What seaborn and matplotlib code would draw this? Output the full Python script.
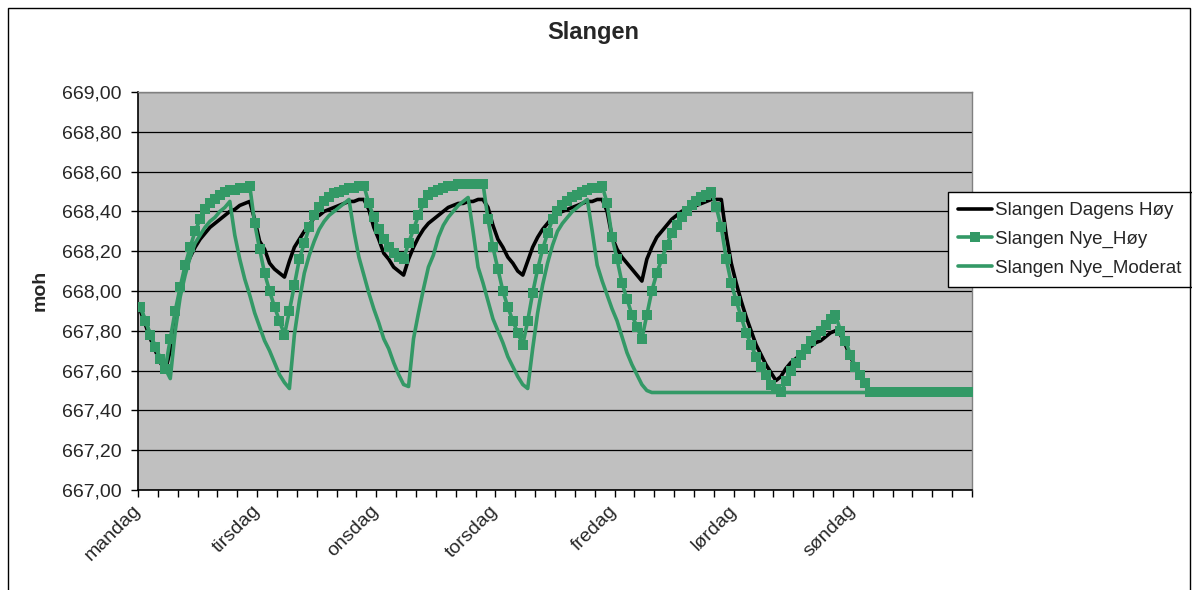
import numpy as np
import pandas as pd
import matplotlib
matplotlib.use("Agg")
import matplotlib.pyplot as plt
import seaborn as sns
from matplotlib.ticker import MultipleLocator, FuncFormatter, FixedLocator
from matplotlib.patches import Rectangle

title = "Slangen"
ylabel = "moh"
day_labels = ["mandag", "tirsdag", "onsdag", "torsdag", "fredag", "lørdag", "søndag"]
series_names = ["Slangen Dagens Høy", "Slangen Nye_Høy", "Slangen Nye_Moderat"]

dagens_hoy = [
    667.90, 667.83, 667.76, 667.70, 667.64, 667.60,
    667.70, 667.85, 668.00, 668.11, 668.17, 668.22,
    668.26, 668.29, 668.32, 668.34, 668.36, 668.38,
    668.40, 668.41, 668.43, 668.44, 668.45, 668.36,
    668.25, 668.21, 668.14, 668.11, 668.09, 668.07,
    668.15, 668.22, 668.26, 668.30, 668.33, 668.37,
    668.38, 668.40, 668.41, 668.42, 668.43, 668.44,
    668.45, 668.45, 668.46, 668.46, 668.41, 668.32,
    668.26, 668.19, 668.16, 668.12, 668.10, 668.08,
    668.16, 668.22, 668.27, 668.31, 668.34, 668.36,
    668.38, 668.40, 668.42, 668.43, 668.44, 668.44,
    668.45, 668.45, 668.46, 668.46, 668.42, 668.33,
    668.26, 668.22, 668.17, 668.14, 668.10, 668.08,
    668.15, 668.22, 668.27, 668.31, 668.34, 668.37,
    668.39, 668.40, 668.41, 668.42, 668.43, 668.44,
    668.45, 668.45, 668.46, 668.46, 668.40, 668.27,
    668.21, 668.17, 668.14, 668.11, 668.08, 668.05,
    668.16, 668.22, 668.27, 668.30, 668.33, 668.36,
    668.38, 668.40, 668.41, 668.42, 668.43, 668.44,
    668.45, 668.46, 668.46, 668.46, 668.28, 668.14,
    668.04, 667.95, 667.87, 667.80, 667.73, 667.68,
    667.63, 667.59, 667.55, 667.57, 667.61, 667.64,
    667.66, 667.68, 667.70, 667.72, 667.74, 667.75,
    667.77, 667.79, 667.80, 667.78, 667.73, 667.67,
    667.62, 667.57, 667.53, 667.49, 667.49, 667.49,
    667.49, 667.49, 667.49, 667.49, 667.49, 667.49,
    667.49, 667.49, 667.49, 667.49, 667.49, 667.49,
    667.49, 667.49, 667.49, 667.49, 667.49, 667.49,
]

nye_hoy = [
    667.92, 667.85, 667.78, 667.72, 667.66, 667.61,
    667.76, 667.90, 668.02, 668.13, 668.22, 668.30,
    668.36, 668.41, 668.44, 668.46, 668.48, 668.50,
    668.51, 668.51, 668.52, 668.52, 668.53, 668.34,
    668.21, 668.09, 668.00, 667.92, 667.85, 667.78,
    667.90, 668.03, 668.16, 668.24, 668.32, 668.38,
    668.42, 668.45, 668.47, 668.49, 668.50, 668.51,
    668.52, 668.52, 668.53, 668.53, 668.44, 668.37,
    668.31, 668.26, 668.22, 668.19, 668.17, 668.16,
    668.24, 668.31, 668.38, 668.44, 668.48, 668.50,
    668.51, 668.52, 668.53, 668.53, 668.54, 668.54,
    668.54, 668.54, 668.54, 668.54, 668.36, 668.22,
    668.11, 668.00, 667.92, 667.85, 667.79, 667.73,
    667.85, 667.99, 668.11, 668.21, 668.29, 668.36,
    668.40, 668.43, 668.45, 668.47, 668.48, 668.50,
    668.51, 668.52, 668.52, 668.53, 668.44, 668.27,
    668.16, 668.04, 667.96, 667.88, 667.82, 667.76,
    667.88, 668.00, 668.09, 668.16, 668.23, 668.29,
    668.33, 668.37, 668.40, 668.43, 668.45, 668.47,
    668.48, 668.50, 668.42, 668.32, 668.16, 668.04,
    667.95, 667.87, 667.79, 667.73, 667.67, 667.62,
    667.58, 667.53, 667.51, 667.49, 667.55, 667.60,
    667.64, 667.68, 667.71, 667.75, 667.78, 667.80,
    667.83, 667.86, 667.88, 667.80, 667.75, 667.68,
    667.62, 667.58, 667.54, 667.49, 667.49, 667.49,
    667.49, 667.49, 667.49, 667.49, 667.49, 667.49,
    667.49, 667.49, 667.49, 667.49, 667.49, 667.49,
    667.49, 667.49, 667.49, 667.49, 667.49, 667.49,
]

nye_moderat = [
    667.92, 667.85, 667.78, 667.72, 667.66, 667.61,
    667.56, 667.80, 667.97, 668.08, 668.17, 668.24,
    668.28, 668.32, 668.35, 668.37, 668.40, 668.42,
    668.45, 668.28, 668.16, 668.06, 667.98, 667.89,
    667.82, 667.75, 667.70, 667.64, 667.58, 667.54,
    667.51, 667.78, 667.95, 668.09, 668.18, 668.25,
    668.31, 668.35, 668.38, 668.40, 668.42, 668.44,
    668.46, 668.30, 668.17, 668.08, 667.99, 667.91,
    667.84, 667.76, 667.71, 667.64, 667.58, 667.53,
    667.52, 667.76, 667.89, 668.01, 668.12, 668.18,
    668.27, 668.33, 668.37, 668.40, 668.43, 668.45,
    668.47, 668.30, 668.12, 668.04, 667.95, 667.86,
    667.80, 667.74, 667.67, 667.62, 667.57, 667.53,
    667.51, 667.71, 667.89, 668.03, 668.14, 668.23,
    668.30, 668.34, 668.37, 668.40, 668.42, 668.44,
    668.46, 668.30, 668.13, 668.05, 667.98, 667.91,
    667.85, 667.77, 667.69, 667.63, 667.58, 667.53,
    667.50, 667.49, 667.49, 667.49, 667.49, 667.49,
    667.49, 667.49, 667.49, 667.49, 667.49, 667.49,
    667.49, 667.49, 667.49, 667.49, 667.49, 667.49,
    667.49, 667.49, 667.49, 667.49, 667.49, 667.49,
    667.49, 667.49, 667.49, 667.49, 667.49, 667.49,
    667.49, 667.49, 667.49, 667.49, 667.49, 667.49,
    667.49, 667.49, 667.49, 667.49, 667.49, 667.49,
    667.49, 667.49, 667.49, 667.49, 667.49, 667.49,
    667.49, 667.49, 667.49, 667.49, 667.49, 667.49,
    667.49, 667.49, 667.49, 667.49, 667.49, 667.49,
    667.49, 667.49, 667.49, 667.49, 667.49, 667.49,
]

n = len(dagens_hoy)
df = pd.DataFrame({
    "hour": np.arange(n),
    series_names[0]: dagens_hoy,
    series_names[1]: nye_hoy,
    series_names[2]: nye_moderat,
})

sns.set_style("white")
plt.rcParams["font.family"] = ["Liberation Sans", "DejaVu Sans"]

W, H = 1192, 590
fig = plt.figure(figsize=(W / 100, H / 100), dpi=100)
ax = fig.add_axes([138 / W, 1 - 490 / H, 834 / W, 398 / H])
ax.set_facecolor("#C0C0C0")

green = "#339966"
sns.lineplot(data=df, x="hour", y=series_names[0], ax=ax, color="black",
             linewidth=2.6, label=series_names[0], zorder=3)
sns.lineplot(data=df, x="hour", y=series_names[1], ax=ax, color=green,
             linewidth=2.6, marker="s", markersize=7, markeredgewidth=0,
             label=series_names[1], zorder=4)
sns.lineplot(data=df, x="hour", y=series_names[2], ax=ax, color=green,
             linewidth=2.6, label=series_names[2], zorder=5)

ax.set_xlim(-0.5, n - 0.5)
ax.set_ylim(667.0, 669.0)
ax.yaxis.set_major_locator(MultipleLocator(0.2))
ax.yaxis.set_major_formatter(FuncFormatter(lambda v, p: f"{v:.2f}".replace(".", ",")))
ax.grid(axis="y", which="major", color="black", linewidth=0.9)
ax.grid(axis="x", visible=False)
ax.set_axisbelow(True)

per_day = 24
major = [-0.5 + per_day * k for k in range(len(day_labels))]
minor = np.arange(-0.5, n + 0.5, 4)
ax.xaxis.set_major_locator(FixedLocator(major))
ax.xaxis.set_minor_locator(FixedLocator(minor))
ax.set_xticklabels(day_labels, rotation=45, ha="right", va="center",
                   rotation_mode="anchor", fontsize=14)
ax.tick_params(axis="x", which="both", direction="out", length=5, width=1,
               color="black", bottom=True, pad=8)
ax.tick_params(axis="y", direction="out", length=5, width=1, color="black",
               left=True, labelsize=14, pad=7)
ax.set_xlabel("")
ax.set_ylabel("")

for side in ["left", "bottom"]:
    ax.spines[side].set_color("black")
    ax.spines[side].set_linewidth(1.2)
for side in ["top", "right"]:
    ax.spines[side].set_color("#808080")
    ax.spines[side].set_linewidth(1.0)

leg = ax.legend(loc="upper left", bbox_to_anchor=(948 / W, 1 - 192 / H),
                bbox_transform=fig.transFigure, frameon=True, fancybox=False,
                edgecolor="black", framealpha=1, fontsize=13.5, handlelength=1.8,
                handletextpad=0.15, borderpad=0.55, labelspacing=0.6,
                borderaxespad=0)
leg.get_frame().set_linewidth(1.0)

fig.text(593 / W, 1 - 32 / H, title, ha="center", va="center",
         fontsize=17, fontweight="bold")
fig.text(40 / W, 1 - 290 / H, ylabel, ha="center", va="center",
         rotation=90, fontsize=14, fontweight="bold")

fig.patches.append(Rectangle((8 / W, -0.05), (1190 - 8) / W, 1 - 8 / H + 0.05,
                             transform=fig.transFigure, fill=False,
                             edgecolor="black", linewidth=1.0))

fig.savefig("out.png", dpi=100, facecolor="white")
